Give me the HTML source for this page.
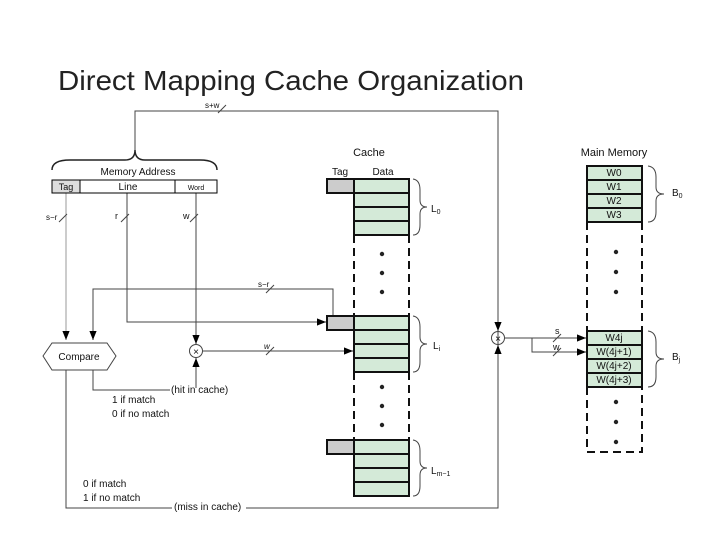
<!DOCTYPE html>
<html><head><style>
body{margin:0;background:#fff;width:720px;height:540px;overflow:hidden}
svg text{font-family:"Liberation Sans",sans-serif;fill:#111}
</style></head><body>
<svg width="720" height="540" viewBox="0 0 720 540" xmlns="http://www.w3.org/2000/svg">
<defs><marker id="a" viewBox="0 0 10 10" refX="10" refY="5" markerWidth="9" markerHeight="9" orient="auto" markerUnits="userSpaceOnUse"><path d="M0,1 L10,5 L0,9z" fill="#000"/></marker></defs>
<text x="58" y="90" font-size="28" textLength="466" lengthAdjust="spacingAndGlyphs" style="fill:#222">Direct Mapping Cache Organization</text>
<g stroke="#444" fill="none" stroke-width="1">
<path d="M135,150 V111 H498 V508 H66 V370"/>
<path d="M66,193 V340" stroke="#999" marker-end="url(#a)"/>
<path d="M127,193 V322 H326" marker-end="url(#a)"/>
<path d="M196,193 V344" marker-end="url(#a)"/>
<path d="M333,316 V289 H93 V340" marker-end="url(#a)"/>
<path d="M93,370 V390 H170"/>
<path d="M196,388 V358" marker-end="url(#a)"/>
<path d="M203,351 H353" marker-end="url(#a)"/>
<path d="M505,338 H586" marker-end="url(#a)"/>
<path d="M532,338 V352 H586" marker-end="url(#a)"/>
<path d="M498,320 V331" marker-end="url(#a)"/>
<path d="M498,356 V345" marker-end="url(#a)"/>
<path d="M218,113 l8,-8 M59,222 l8,-8 M121,222 l8,-8 M190,222 l8,-8 M266,293 l8,-8 M266,355 l8,-8 M553,342 l8,-8 M553,356 l8,-8"/>
<path d="M52,170 Q52,160 70,160 H125 Q135,160 135,150 Q135,160 145,160 H200 Q217,160 217,170" stroke="#222" stroke-width="1.5"/>
<path d="M43,356 L52,343 H107 L116,356 L107,370 H52 Z"/>
<circle cx="196" cy="351" r="6.5"/><circle cx="498" cy="338" r="6.5"/>
</g>
<text x="196" y="355" font-size="10" text-anchor="middle">×</text>
<text x="498" y="342" font-size="10" text-anchor="middle">×</text>
<text x="205" y="108" font-size="8">s+w</text>
<text x="138" y="175" font-size="10" text-anchor="middle">Memory Address</text>
<rect x="52" y="180" width="28" height="13" fill="#ddd" stroke="#000"/>
<rect x="80" y="180" width="95" height="13" fill="#fff" stroke="#000"/>
<rect x="175" y="180" width="42" height="13" fill="#fff" stroke="#000"/>
<text x="66" y="190" font-size="9" text-anchor="middle">Tag</text>
<text x="128" y="190" font-size="10" text-anchor="middle">Line</text>
<text x="196" y="190" font-size="7" text-anchor="middle">Word</text>
<text x="46" y="220" font-size="8">s−r</text><text x="115" y="219" font-size="9">r</text><text x="183" y="219" font-size="9">w</text>
<text x="258" y="287" font-size="8">s−r</text><text x="264" y="349" font-size="8" font-style="italic">w</text>
<text x="79" y="360" font-size="10" text-anchor="middle">Compare</text>
<text x="171" y="393" font-size="10">(hit in cache)</text>
<text x="112" y="403" font-size="10">1 if match</text><text x="112" y="417" font-size="10">0 if no match</text>
<text x="83" y="487" font-size="10">0 if match</text><text x="83" y="501" font-size="10">1 if no match</text>
<rect x="172" y="500" width="74" height="12" fill="#fff"/>
<text x="174" y="510" font-size="10">(miss in cache)</text>
<text x="369" y="156" font-size="11" text-anchor="middle">Cache</text>
<text x="340" y="175" font-size="10" text-anchor="middle">Tag</text><text x="383" y="175" font-size="10" text-anchor="middle">Data</text>
<g stroke="#111" stroke-width="2">
<rect x="327" y="179" width="27" height="14" fill="#ccc"/>
<rect x="354" y="179" width="55" height="56" fill="#d4ead8"/>
<path d="M354,193H409M354,207H409M354,221H409"/>
<rect x="327" y="316" width="27" height="14" fill="#ccc"/>
<rect x="354" y="316" width="55" height="56" fill="#d4ead8"/>
<path d="M354,330H409M354,344H409M354,358H409"/>
<rect x="327" y="440" width="27" height="14" fill="#ccc"/>
<rect x="354" y="440" width="55" height="56" fill="#d4ead8"/>
<path d="M354,454H409M354,468H409M354,482H409"/>
<path d="M354,235V316M409,235V316M354,372V440M409,372V440" stroke-dasharray="8,5" fill="none"/>
<rect x="587" y="166" width="55" height="56" fill="#d4ead8"/>
<path d="M587,180H642M587,194H642M587,208H642"/>
<rect x="587" y="331" width="55" height="56" fill="#d4ead8"/>
<path d="M587,345H642M587,359H642M587,373H642"/>
<path d="M587,222V331M642,222V331M587,387V452H642V387" stroke-dasharray="8,5" fill="none"/>
</g>
<g fill="#222">
<circle cx="382" cy="254" r="2.2"/><circle cx="382" cy="273" r="2.2"/><circle cx="382" cy="292" r="2.2"/>
<circle cx="382" cy="387" r="2.2"/><circle cx="382" cy="406" r="2.2"/><circle cx="382" cy="425" r="2.2"/>
<circle cx="616" cy="252" r="2.2"/><circle cx="616" cy="272" r="2.2"/><circle cx="616" cy="292" r="2.2"/>
<circle cx="616" cy="402" r="2.2"/><circle cx="616" cy="422" r="2.2"/><circle cx="616" cy="442" r="2.2"/>
</g>
<g stroke="#444" fill="none">
<path d="M413,179 Q420,180 420,190 V200 Q420,207 427,207 Q420,207 420,214 V225 Q420,235 413,235"/>
<path d="M413,316 Q420,317 420,327 V337 Q420,344 427,344 Q420,344 420,351 V362 Q420,372 413,372"/>
<path d="M413,440 Q420,441 420,451 V461 Q420,468 427,468 Q420,468 420,475 V486 Q420,496 413,496"/>
<path d="M648,166 Q656,167 656,177 V187 Q656,194 664,194 Q656,194 656,201 V212 Q656,222 648,222"/>
<path d="M648,331 Q656,332 656,342 V352 Q656,359 664,359 Q656,359 656,366 V377 Q656,387 648,387"/>
</g>
<text x="431" y="212" font-size="10">L<tspan font-size="7" dy="2">0</tspan></text>
<text x="433" y="349" font-size="10">L<tspan font-size="7" dy="2">i</tspan></text>
<text x="431" y="474" font-size="10">L<tspan font-size="7" dy="2">m−1</tspan></text>
<text x="614" y="156" font-size="11" text-anchor="middle">Main Memory</text>
<g font-size="10" text-anchor="middle">
<text x="614" y="176">W0</text><text x="614" y="190">W1</text><text x="614" y="204">W2</text><text x="614" y="218">W3</text>
<text x="614" y="341">W4j</text><text x="614" y="355">W(4j+1)</text><text x="614" y="369">W(4j+2)</text><text x="614" y="383">W(4j+3)</text>
</g>
<text x="672" y="196" font-size="10">B<tspan font-size="7" dy="2">0</tspan></text>
<text x="672" y="360" font-size="10">B<tspan font-size="7" dy="2">j</tspan></text>
<text x="555" y="334" font-size="9">s</text><text x="553" y="350" font-size="9">w</text>
</svg>
</body></html>
